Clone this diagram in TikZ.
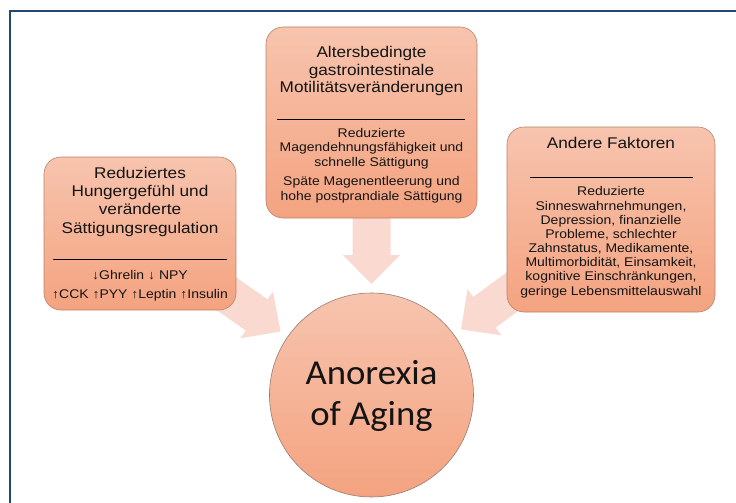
\documentclass[tikz,border=0pt]{standalone}
\usepackage{fontspec}
\setmainfont{Liberation Sans}[FakeStretch=1.11]
\newfontfamily\circfont{Carlito}[FakeStretch=1.05]
\usetikzlibrary{calc}
\pgfdeclarelayer{background}
\pgfsetlayers{background,main}
\definecolor{framecol}{RGB}{35,72,112}
\definecolor{boxtop}{RGB}{247,196,174}
\definecolor{boxbot}{RGB}{244,163,128}
\definecolor{boxline}{RGB}{185,130,108}
\definecolor{circline}{RGB}{150,125,115}
\definecolor{arrowfill}{RGB}{250,218,208}
\definecolor{txt}{RGB}{20,20,20}
\newcommand\myblockarrow[2]{%
  \coordinate (hb) at ($(#2)!29pt!(#1)$);
  \fill[arrowfill] ($(#1)!19pt!-90:(#2)$) -- ($(hb)!19pt!-90:(#2)$) -- ($(hb)!28.5pt!-90:(#2)$)
    -- (#2) -- ($(hb)!28.5pt!90:(#2)$) -- ($(hb)!19pt!90:(#2)$) -- ($(#1)!19pt!90:(#2)$) -- cycle;}
\begin{document}
\begin{tikzpicture}[x=1pt,y=-1pt,
  box/.style={draw=boxline, line width=0.6pt, rounded corners=17pt, top color=boxtop, bottom color=boxbot, inner sep=0pt},
  title/.style={align=center, inner sep=0pt, anchor=base, text=txt, font=\fontsize{15.5}{17.6}\selectfont},
  small/.style={align=center, inner sep=0pt, anchor=base, text=txt, font=\fontsize{12.6}{14.6}\selectfont},
  divider/.style={draw=black, line width=0.8pt}]
\useasboundingbox (0,0) rectangle (736,503);

% boxes
\node[box, minimum width=192pt, minimum height=153pt] (lbox) at (140,233.5) {};
\node[box, minimum width=211pt, minimum height=191pt] (tbox) at (371.5,122.5) {};
\node[box, minimum width=208pt, minimum height=185pt] (rbox) at (611,219.5) {};
\node[draw=circline, line width=0.6pt, circle, minimum size=204pt, inner sep=0pt, top color=boxtop, bottom color=boxbot] (circ) at (371.5,395) {};

% arrows behind
\coordinate (ltip) at ($(circ.center)!111pt!(lbox.center)$);
\coordinate (ttip) at ($(circ.center)!111pt!(tbox.center)$);
\coordinate (rtip) at ($(circ.center)!111pt!(rbox.center)$);
\begin{pgfonlayer}{background}
\fill[white] (0,0) rectangle (736,503);
\draw[framecol, line width=2.5pt] (740,11) -- (10,11) -- (10,510);
\myblockarrow{lbox.center}{ltip}
\myblockarrow{tbox.center}{ttip}
\myblockarrow{rbox.center}{rtip}
\end{pgfonlayer}

% left box text (anchor = baseline of last line)
\node[title, font=\fontsize{15.5}{18.4}\selectfont] (lt) at (140,233.2) {Reduziertes\\Hungergefühl und\\veränderte\\Sättigungsregulation};
\draw[divider] (53,259) -- (227,259);
\node[small, font=\fontsize{12.6}{19}\selectfont] (ls) at (140,298) {↓Ghrelin ↓ NPY\\↑CCK ↑PYY ↑Leptin ↑Insulin};

% top box text
\node[title] (tt) at (371.5,92.9) {Altersbedingte\\gastrointestinale\\Motilitätsveränderungen};
\draw[divider] (277,119) -- (465,119);
\node[small, font=\fontsize{12.6}{14.8}\selectfont] (ts) at (371.5,200.4) {Reduzierte\\Magendehnungsfähigkeit und\\schnelle Sättigung\\[4.2pt]Späte Magenentleerung und\\hohe postprandiale Sättigung};

% right box text
\node[title] (rt) at (611,148) {Andere Faktoren};
\draw[divider] (530,177) -- (693,177);
\node[small, font=\fontsize{12.6}{14.15}\selectfont] (rs) at (611,295) {Reduzierte\\Sinneswahrnehmungen,\\Depression, finanzielle\\Probleme, schlechter\\Zahnstatus, Medikamente,\\Multimorbidität, Einsamkeit,\\kognitive Einschränkungen,\\geringe Lebensmittelauswahl};

% circle text
\node[align=center, inner sep=0pt, anchor=base, text=txt, font=\circfont\fontsize{35}{41}\selectfont] (ct) at (371.5,425) {Anorexia\\of Aging};
\end{tikzpicture}
\end{document}
